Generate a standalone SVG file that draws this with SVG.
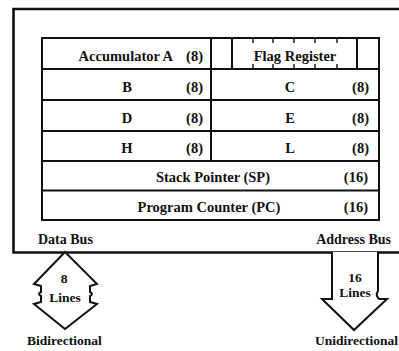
<svg xmlns="http://www.w3.org/2000/svg" width="399" height="351" viewBox="0 0 399 351">
<style>
.ln{fill:none;stroke:#111;stroke-width:2;stroke-linecap:square}
.ob{fill:none;stroke:#111;stroke-width:2.6}
.ar{fill:#fff;stroke:#111;stroke-width:2;stroke-linejoin:miter}
text{font-family:"Liberation Serif","Times New Roman",serif;font-weight:bold;font-size:14.5px;fill:#111}
.m{text-anchor:middle}
.e{text-anchor:end}
.s{font-size:14px}
.t{font-size:13.5px}
</style>
<rect width="399" height="351" fill="#fff"/>
<g id="cpu-box">
<path class="ob" d="M401,9 H13.5 V252.5 H401"/>
<text x="38" y="244" class="s">Data Bus</text>
<text x="391" y="244" class="s e">Address Bus</text>
</g>
<g id="register-block">
<rect class="ln" x="42" y="38" width="337" height="182"/>
<path class="ln" d="M211,38 V161 M42,69 H379 M42,100 H379 M42,131 H379 M42,161 H379 M42,190.5 H379"/>
</g>
<g id="accumulator-a">
<text x="173" y="61" class="e">Accumulator A</text>
<text x="203" y="61" class="e">(8)</text>
</g>
<g id="flag-register">
<path class="ln" d="M232,38 V69 M357,38 V69"/>
<path fill="none" stroke="#111" stroke-width="1.4" d="M253,38 V43 M273,38 V43 M294,38 V43 M315,38 V43 M337,38 V43 M253,64 V69 M273,64 V69 M294,64 V69 M315,64 V69 M337,64 V69"/>
<text x="295" y="61" class="m">Flag Register</text>
</g>
<g id="reg-b"><text x="127" y="92" class="m">B</text><text x="203" y="92" class="e">(8)</text></g>
<g id="reg-c"><text x="290" y="92" class="m">C</text><text x="369" y="92" class="e">(8)</text></g>
<g id="reg-d"><text x="127" y="123" class="m">D</text><text x="203" y="123" class="e">(8)</text></g>
<g id="reg-e"><text x="290" y="123" class="m">E</text><text x="369" y="123" class="e">(8)</text></g>
<g id="reg-h"><text x="127" y="153" class="m">H</text><text x="203" y="153" class="e">(8)</text></g>
<g id="reg-l"><text x="290" y="153" class="m">L</text><text x="369" y="153" class="e">(8)</text></g>
<g id="stack-pointer"><text x="213" y="182" class="m">Stack Pointer (SP)</text><text x="368" y="182" class="e">(16)</text></g>
<g id="program-counter"><text x="209" y="212" class="m">Program Counter (PC)</text><text x="368" y="212" class="e">(16)</text></g>
<g id="connectors">
<g id="data-bus-arrow">
<path class="ar" d="M65,252 L34,284 L41,286 L41,292 Q37,294 41,296 L41,302 L34,304 L65,329 L97,304 L90,302 L90,296 Q94,294 90,292 L90,286 L97,284 Z"/>
<text x="64" y="283" class="m t">8</text>
<text x="65" y="302" class="m t">Lines</text>
</g>
<g id="address-bus-arrow">
<path class="ar" d="M332,252 L332,299 L322,299 L354,330 L387,299 L379,299 Q375,295 378,291 L378,252"/>
<text x="355" y="282" class="m t">16</text>
<text x="355" y="297" class="m t">Lines</text>
</g>
</g>
<text x="27" y="345" class="t">Bidirectional</text>
<text x="398" y="345" class="t e">Unidirectional</text>
</svg>
